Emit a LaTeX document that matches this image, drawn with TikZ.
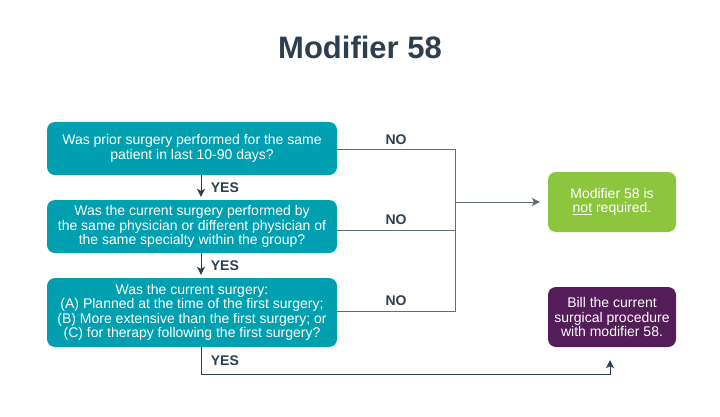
\documentclass[tikz,border=0pt]{standalone}
\usepackage{fontspec}
\setmainfont{Liberation Sans}
\usetikzlibrary{arrows.meta}
\definecolor{teal58}{HTML}{00A0B0}
\definecolor{green58}{HTML}{8CC63F}
\definecolor{purple58}{HTML}{541C58}
\definecolor{ink58}{HTML}{2C3E50}
\definecolor{wire58}{HTML}{5D6D7E}
\begin{document}
\begin{tikzpicture}[x=1pt, y=-1pt,
questionnode/.style={rectangle, rounded corners=8pt, fill=teal58, text=white, align=center, inner sep=0pt, minimum width=290pt, font=\fontsize{14}{14.5}\selectfont},
answernode/.style={rectangle, rounded corners=8pt, text=white, align=center, inner sep=0pt, minimum width=128pt, minimum height=60pt, font=\fontsize{14}{14.5}\selectfont},
tag/.style={text=ink58, font=\fontsize{14}{16}\selectfont\bfseries},
wire/.style={draw=wire58, line width=1pt},
arrow/.style={wire, draw=ink58, -{Stealth[length=8pt, width=8pt, inset=2pt]}},
]
\useasboundingbox (0,0) rectangle (720,417);
%Title
\node[text=ink58, font=\fontsize{31}{36}\selectfont\bfseries] (title) at (360,47) {Modifier 58};

%Nodes
\node[questionnode, minimum height=53pt] (ask1) at (192,148.5) {Was prior surgery performed for the same\\patient in last 10-90 days?};
\node[questionnode, minimum height=53pt] (ask2) at (192,226.5) {Was the current surgery performed by\\the same physician or different physician of\\the same specialty within the group?};
\node[questionnode, minimum height=69pt] (ask3) at (192,312.5) {Was the current surgery:\\(A) Planned at the time of the first surgery;\\(B) More extensive than the first surgery; or\\(C) for therapy following the first surgery?};
\node[answernode, fill=green58] (notreq) at (612,202) {Modifier 58 is\\\underline{not} required.};
\node[answernode, fill=purple58] (bill) at (612,317) {Bill the current\\surgical procedure\\with modifier 58.};
\coordinate (join) at (455,202);

%Lines
\draw[arrow, shorten >=3pt] ([xshift=9pt]ask1.south) -- node[tag, right=6pt] {YES} ([xshift=9pt]ask2.north);
\draw[arrow, shorten >=3pt] ([xshift=9pt]ask2.south) -- node[tag, right=6pt] {YES} ([xshift=9pt]ask3.north);
\draw[wire] ([yshift=-1.5pt]ask1.east) -- node[tag, above=2pt] {NO} ([yshift=-1.5pt]ask1.east -| join) -- ([yshift=1.5pt]ask3.east -| join) -- node[tag, above=2pt] {NO} ([yshift=1.5pt]ask3.east);
\draw[wire] ([yshift=-3.5pt]ask2.east) -- node[tag, above=2pt] {NO} ([yshift=-3.5pt]ask2.east -| join);
\draw[arrow, draw=wire58, shorten >=8pt] (join) -- (notreq.west);
\draw[arrow, shorten >=13pt] ([xshift=9pt]ask3.south) -- node[tag, right=6pt] {YES} ++(0,27) -| ([xshift=-2pt]bill.south);
\end{tikzpicture}
\end{document}
